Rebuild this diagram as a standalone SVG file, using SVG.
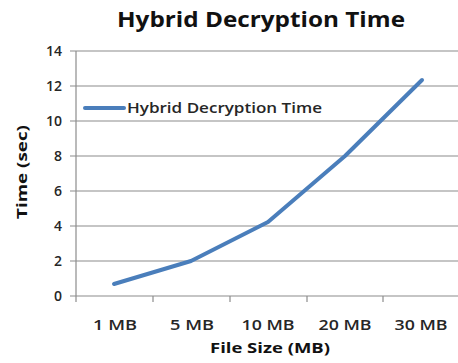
<svg xmlns="http://www.w3.org/2000/svg" width="458" height="363" viewBox="0 0 458 363">
  <style>
    .grid { stroke: #8c8c8c; stroke-width: 1.2; fill: none; }
    .axis { stroke: #8c8c8c; stroke-width: 1.2; fill: none; }
    .tick { font-family: "Open Sans", "Liberation Sans", sans-serif; font-size: 14px; font-weight: 600; fill: #262626; }
    .title { font-family: "Open Sans", "Liberation Sans", sans-serif; font-size: 21px; font-weight: bold; fill: #111; }
    .axtitle { font-family: "Open Sans", "Liberation Sans", sans-serif; font-size: 15px; font-weight: bold; fill: #111; }
    .series { stroke: #4a7ebb; stroke-width: 4; fill: none; stroke-linejoin: round; stroke-linecap: round; }
  </style>
  <rect width="458" height="363" fill="#ffffff"/>

  <g id="title">
    <text class="title" x="261" y="27" text-anchor="middle" textLength="288" lengthAdjust="spacingAndGlyphs">Hybrid Decryption Time</text>
  </g>

  <g id="gridlines">
    <line class="grid" x1="70" y1="51" x2="458" y2="51"/>
    <line class="grid" x1="70" y1="86" x2="458" y2="86"/>
    <line class="grid" x1="70" y1="121" x2="458" y2="121"/>
    <line class="grid" x1="70" y1="156" x2="458" y2="156"/>
    <line class="grid" x1="70" y1="191" x2="458" y2="191"/>
    <line class="grid" x1="70" y1="226" x2="458" y2="226"/>
    <line class="grid" x1="70" y1="261" x2="458" y2="261"/>
    <line class="axis" x1="70" y1="296" x2="458" y2="296"/>
  </g>

  <g id="axes">
    <line class="axis" x1="76" y1="51" x2="76" y2="302"/>
    <line class="axis" x1="153" y1="296" x2="153" y2="302"/>
    <line class="axis" x1="230" y1="296" x2="230" y2="302"/>
    <line class="axis" x1="307" y1="296" x2="307" y2="302"/>
    <line class="axis" x1="383" y1="296" x2="383" y2="302"/>
  </g>

  <g id="y-labels" text-anchor="end">
    <text class="tick" x="62" y="56">14</text>
    <text class="tick" x="62" y="91">12</text>
    <text class="tick" x="62" y="126">10</text>
    <text class="tick" x="62" y="161">8</text>
    <text class="tick" x="62" y="196">6</text>
    <text class="tick" x="62" y="231">4</text>
    <text class="tick" x="62" y="266">2</text>
    <text class="tick" x="62" y="301">0</text>
  </g>

  <g id="x-labels" text-anchor="middle">
    <text class="tick" x="115" y="330" textLength="44" lengthAdjust="spacingAndGlyphs">1 MB</text>
    <text class="tick" x="192" y="330" textLength="44" lengthAdjust="spacingAndGlyphs">5 MB</text>
    <text class="tick" x="268" y="330" textLength="53" lengthAdjust="spacingAndGlyphs">10 MB</text>
    <text class="tick" x="345" y="330" textLength="53" lengthAdjust="spacingAndGlyphs">20 MB</text>
    <text class="tick" x="421" y="330" textLength="53" lengthAdjust="spacingAndGlyphs">30 MB</text>
  </g>

  <g id="axis-titles">
    <text class="axtitle" x="270" y="353" text-anchor="middle" textLength="120" lengthAdjust="spacingAndGlyphs">File Size  (MB)</text>
    <text class="axtitle" transform="translate(27 172) rotate(-90)" text-anchor="middle" textLength="94" lengthAdjust="spacingAndGlyphs">Time (sec)</text>
  </g>

  <g id="series">
    <polyline class="series" points="114,284 191,261 268,222 345,156 422,80"/>
  </g>

  <g id="legend">
    <line class="series" x1="85" y1="108" x2="124" y2="108" stroke-linecap="butt"/>
    <text class="tick" x="127" y="113" textLength="195" lengthAdjust="spacingAndGlyphs">Hybrid Decryption Time</text>
  </g>
</svg>
